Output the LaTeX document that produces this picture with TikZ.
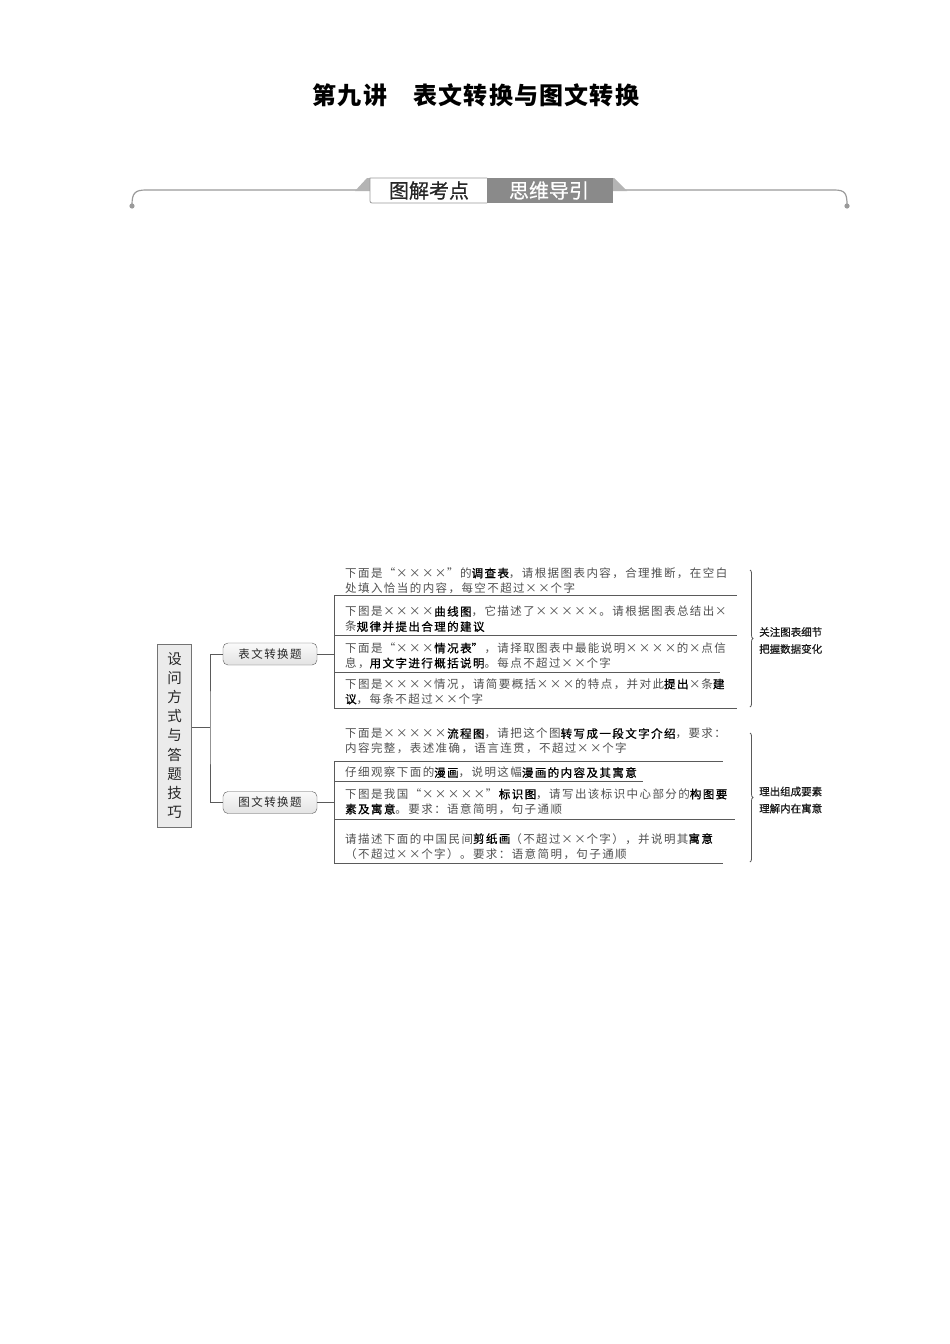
\documentclass[tikz,border=0pt]{standalone}
\usepackage{fontspec}
\usetikzlibrary{decorations.pathreplacing}
\newfontfamily\cjk{Noto Sans CJK SC}[LetterSpace=12.4]
\newfontfamily\cjkm{Noto Sans CJK SC}[LetterSpace=12.4, FakeBold=0.9]
\newfontfamily\cjkp{Noto Sans CJK SC}
\newfontfamily\cjkpm{Noto Sans CJK SC}[FakeBold=0.5]
\newfontfamily\cjkt{Noto Sans CJK SC}[LetterSpace=5]
\definecolor{txt}{HTML}{505050}
\definecolor{ln}{HTML}{5A5A5A}
\definecolor{hdr}{HTML}{9A9A9A}
\definecolor{tabgrey}{HTML}{8A8A8A}
\definecolor{tabshoulder}{HTML}{B4B4B4}
\newcommand\BB[1]{{\cjkm\color{black}#1}}
\newcommand\XX{\makebox[1.124em]{×}}
\newcommand\myLQ{\makebox[1.124em][r]{“}}
\newcommand\myRQ{\makebox[1.124em][l]{”}}
\begin{document}
\begin{tikzpicture}[x=1pt,y=-1pt,
  item/.style={anchor=north west, inner sep=0pt, align=left, font=\cjk\fontsize{11.5}{15}\selectfont, text=txt},
  branch/.style={rectangle, rounded corners=5pt, draw=ln, top color=gray!4, bottom color=gray!22, minimum width=94pt, minimum height=22pt, inner sep=0pt, font=\cjk\fontsize{11.5}{14}\selectfont, text=black!85},
  rootbox/.style={rectangle, draw=black!55, fill=black!8, minimum width=34pt, minimum height=183pt, inner sep=0pt, align=center, font=\cjkp\fontsize{14.5}{19.1}\selectfont, text=black!85},
  lbl/.style={anchor=west, inner sep=0pt, align=left, font=\cjkpm\fontsize{10.5}{17}\selectfont, text=black!90},
  conn/.style={draw=ln, line width=0.8pt},
  brc/.style={draw=ln, line width=0.8pt, decorate, decoration={brace, amplitude=3pt}}
]
\useasboundingbox (0,0) rectangle (950,1344);
\fill[white] (0,0) rectangle (950,1344);

% title
\node[font=\cjkt\bfseries\fontsize{24}{28}\selectfont, text=black] (title) at (476,95) {第九讲　表文转换与图文转换};

% header line
\draw[hdr, line width=1.2pt] (132,205) .. controls (132,193) and (135,190) .. (146,190) -- (834,190) .. controls (845,190) and (847,193) .. (847,205);
\fill[hdr] (132,206) circle (2.6pt);
\fill[hdr] (847,206) circle (2.6pt);

% tab
\fill[tabshoulder] (355,191) -- (367,178) -- (372,178) -- (372,191) -- cycle;
\fill[tabshoulder] (610,178) -- (614,178) -- (627,191) -- (610,191) -- cycle;
\draw[hdr, fill=white, line width=0.8pt] (487,178) -- (370,178) -- (370,200) [rounded corners=2pt] -- (370,203) -- (487,203);
\fill[tabgrey] (487,178) rectangle (613,203);
\node[font=\cjkpm\fontsize{20}{22}\selectfont, text=black!85] (tabl) at (429,190.5) {图解考点};
\node[font=\cjkpm\fontsize{20}{22}\selectfont, text=white] (tabr) at (549,190.5) {思维导引};

% root and branches
\node[rootbox] (root) at (174.5,735.5) {设\\问\\方\\式\\与\\答\\题\\技\\巧};
\node[branch] (b1) at (270,654) {表文转换题};
\node[branch] (b2) at (270,802.5) {图文转换题};
\coordinate (j) at (210,727);
\draw[conn] (root.east |- j) -- (j);
\draw[conn] (b1.west) -| (j) |- (b2.west);
\coordinate (v1) at (334,654);
\coordinate (v2) at (334,802.5);
\draw[conn] (b1.east) -- (v1);
\draw[conn] (b2.east) -- (v2);

% group 1
\draw[conn] (334,595) -- (334,708);
\draw[conn] (334,595) -- (737,595);
\draw[conn] (334,635) -- (737,635);
\draw[conn] (334,672) -- (720,672);
\draw[conn] (334,708) -- (737,708);
\node[item] (t1) at (345,567.5) {下面是\myLQ\XX\XX\XX\XX\myRQ 的\BB{调查表}，请根据图表内容，合理推断，在空白\\处填入恰当的内容，每空不超过\XX\XX 个字};
\node[item] (t2) at (345,606) {下图是\XX\XX\XX\XX\BB{曲线图}，它描述了\XX\XX\XX\XX\XX 。请根据图表总结出\XX\\条\BB{规律并提出合理的建议}};
\node[item] (t3) at (345,642.5) {下面是\myLQ\XX\XX\XX\BB{情况表\myRQ}，请择取图表中最能说明\XX\XX\XX\XX 的\XX 点信\\息，\BB{用文字进行概括说明}。每点不超过\XX\XX 个字};
\node[item] (t4) at (345,678.5) {下图是\XX\XX\XX\XX 情况，请简要概括\XX\XX\XX 的特点，并对此\BB{提出}\XX 条\BB{建}\\\BB{议}，每条不超过\XX\XX 个字};

% group 2
\draw[conn] (334,761) -- (334,863);
\draw[conn] (334,761) -- (723,761);
\draw[conn] (334,781) -- (643,781);
\draw[conn] (334,819) -- (735,819);
\draw[conn] (334,863) -- (723,863);
\node[item] (g1) at (345,728) {下面是\XX\XX\XX\XX\XX\BB{流程图}，请把这个图\BB{转写成一段文字介绍}，要求：\\内容完整，表述准确，语言连贯，不超过\XX\XX 个字};
\node[item] (g2) at (345,767) {仔细观察下面的\BB{漫画}，说明这幅\BB{漫画的内容及其寓意}};
\node[item] (g3) at (345,788.5) {下图是我国\myLQ\XX\XX\XX\XX\XX\myRQ\BB{标识图}，请写出该标识中心部分的\BB{构图要}\\\BB{素及寓意}。要求：语意简明，句子通顺};
\node[item] (g4) at (345,833) {请描述下面的中国民间\BB{剪纸画}（不超过\XX\XX 个字），并说明其\BB{寓意}\\（不超过\XX\XX 个字）。要求：语意简明，句子通顺};

% braces and labels
\coordinate (r1t) at (750,570);
\coordinate (r1b) at (750,707);
\coordinate (r2t) at (750,733);
\coordinate (r2b) at (750,862);
\draw[brc] (r1t) -- (r1b);
\draw[brc] (r2t) -- (r2b);
\node[lbl] (l1) at (759,640.5) {关注图表细节\\把握数据变化};
\node[lbl] (l2) at (759,800) {理出组成要素\\理解内在寓意};
\end{tikzpicture}
\end{document}
